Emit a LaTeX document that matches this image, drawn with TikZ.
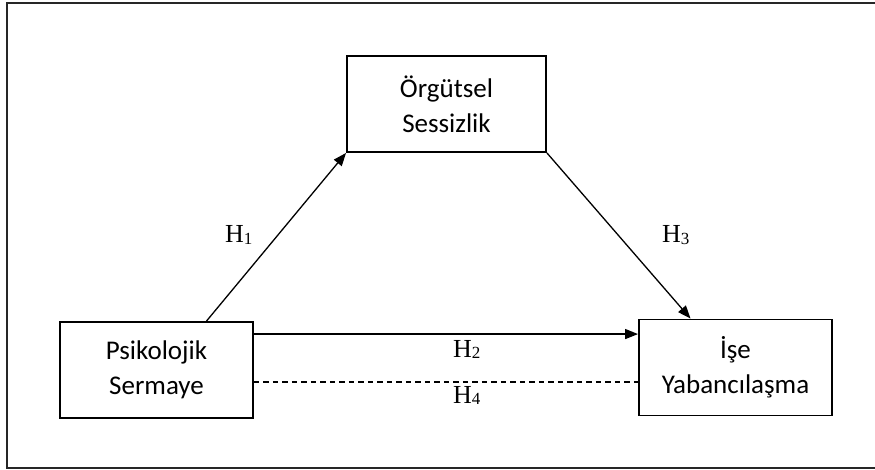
\documentclass[tikz,border=0pt]{standalone}
\usepackage{fontspec}
\setmainfont{Carlito}
\newfontfamily\hfont{Liberation Serif}
\usetikzlibrary{arrows.meta,calc}
\tikzset{
  box/.style={draw=black,line width=1.9pt,minimum width=193pt,minimum height=96pt,inner sep=0pt,align=center,
    font=\fontsize{27}{35}\selectfont},
  link/.style={line width=1.3pt,-{Triangle[length=13pt,width=10pt]}},
  hyp/.style={anchor=base west,inner sep=0pt,font=\hfont\fontsize{26}{26}\selectfont},
}
\newcommand{\hlab}[1]{H\raisebox{-1.5pt}{\fontsize{17}{17}\selectfont #1}}
\begin{document}
\begin{tikzpicture}[x=1pt,y=-1pt]
\useasboundingbox (0,0) rectangle (875,470);
\draw[line width=1.6pt,draw=black!85] (890,3) -- (7,3) -- (7,468) -- (890,468);
\node[box] (psik) at (156.5,370) {Psikolojik\\Sermaye};
\node[box] (ise) at (735.5,367.5) {İşe\\Yabancılaşma};
\node[box,minimum width=199pt] (org) at (446.5,104) {Örgütsel\\Sessizlik};
\draw[link] ([xshift=50pt]psik.north) -- (org.south west);
\draw[link] (org.south east) -- ([xshift=-45pt]ise.north);
\coordinate (h2s) at ([yshift=-13pt]psik.north east);
\draw[link] (h2s) -- (h2s -| ise.west);
\coordinate (h4s) at ([yshift=-61pt]psik.north east);
\draw[line width=1.3pt,dash pattern=on 5.5pt off 4pt] (h4s) -- (h4s -| ise.west);
\node[hyp] (h1) at (225,243) {\hlab{1}};
\node[hyp] (h2) at (453,357) {\hlab{2}};
\node[hyp] (h3) at (662,243) {\hlab{3}};
\node[hyp] (h4) at (453,403) {\hlab{4}};
\end{tikzpicture}
\end{document}
